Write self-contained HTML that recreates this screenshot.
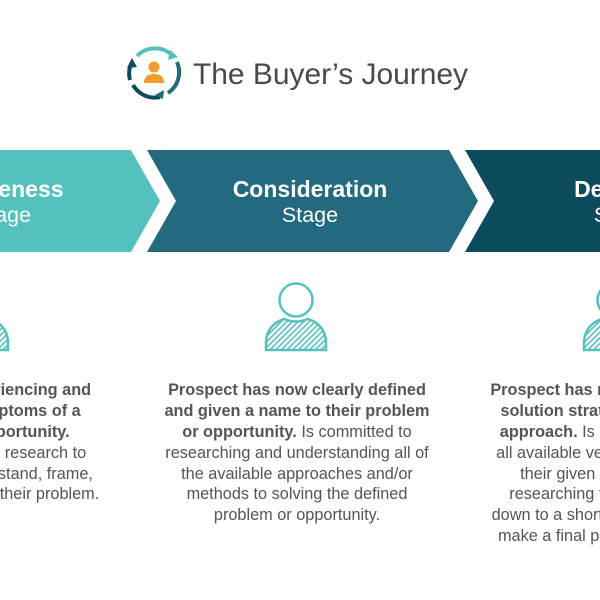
<!DOCTYPE html>
<html><head><meta charset="utf-8"><style>
html,body{margin:0;padding:0;background:#fff;width:600px;height:600px;overflow:hidden}
svg{display:block}
text{font-family:"Liberation Sans",sans-serif}
</style></head><body>
<svg width="600" height="600" viewBox="0 0 600 600" xmlns="http://www.w3.org/2000/svg">
<defs>
<pattern id="h" width="4" height="4" patternUnits="userSpaceOnUse" patternTransform="rotate(45)">
<rect width="4" height="4" fill="#fff"/><rect width="1.6" height="4" fill="#55c1bf"/>
</pattern>
<g id="person">
<circle cx="0" cy="0" r="16.5" fill="none" stroke="#55c1bf" stroke-width="2.5"/>
<path d="M-30 50 L-30 43 C-30 30 -22 22 -12 19 Q0 24 12 19 C22 22 30 30 30 43 L30 50 Z" fill="url(#h)" stroke="#55c1bf" stroke-width="2.5"/>
</g>
</defs>
<g fill="none" stroke-width="4">
<path d="M137 56 A25 25 0 0 1 173 56" stroke="#55c1bf"/>
<path d="M177 62 A25 25 0 0 1 168 93" stroke="#236a80"/>
<path d="M160 97 A25 25 0 0 1 133 85" stroke="#0b4b5c"/>
<path d="M130 80 A25 25 0 0 1 132 62" stroke="#0b4b5c"/>
</g>
<polygon points="170,50 178,57 168,60" fill="#55c1bf"/>
<polygon points="164,90 163,99 155,95" fill="#236a80"/>
<polygon points="127,68 132,58 137,67" fill="#0b4b5c"/>
<circle cx="154" cy="67" r="5.5" fill="#f39c2d"/>
<path d="M144 83 Q144 74 154 74 Q164 74 164 83 Z" fill="#f39c2d"/>
<text x="193" y="84" font-size="30" fill="#4a4a4a" textLength="275">The Buyer’s Journey</text>
<polygon points="0,150 131,150 160,201 131,252 0,252" fill="#55c1bf"/>
<polygon points="147,150 449,150 478,201 449,252 147,252 176,201" fill="#236a80"/>
<polygon points="465,150 600,150 600,252 465,252 494,201" fill="#0b4b5c"/>
<g fill="#fff" text-anchor="middle">
<text x="3" y="197" font-size="23" font-weight="bold">Awareness</text>
<text x="3" y="222" font-size="21.5">Stage</text>
<text x="310" y="197" font-size="23" font-weight="bold">Consideration</text>
<text x="310" y="222" font-size="21.5">Stage</text>
<text x="622" y="197" font-size="23" font-weight="bold">Decision</text>
<text x="622" y="222" font-size="21.5">Stage</text>
</g>
<use href="#person" x="-22" y="300"/>
<use href="#person" x="296" y="300"/>
<use href="#person" x="614" y="300"/>
<g font-size="16.3" fill="#555" text-anchor="middle">
<text x="-22" y="395" font-weight="bold">Prospect is experiencing and</text>
<text x="-22" y="416" font-weight="bold">expressing symptoms of a</text>
<text x="-22" y="437" font-weight="bold">problem or opportunity.</text>
<text x="-22" y="458">Doing educational research to</text>
<text x="-22" y="479">more clearly understand, frame,</text>
<text x="-22" y="499">and give a name to their problem.</text>

<text x="297" y="395" font-weight="bold">Prospect has now clearly defined</text>
<text x="297" y="416" font-weight="bold">and given a name to their problem</text>
<text x="297" y="437"><tspan font-weight="bold">or opportunity.</tspan> Is committed to</text>
<text x="297" y="458">researching and understanding all of</text>
<text x="297" y="479">the available approaches and/or</text>
<text x="297" y="499">methods to solving the defined</text>
<text x="297" y="520">problem or opportunity.</text>

<text x="612" y="395" font-weight="bold">Prospect has now decided on a</text>
<text x="612" y="416" font-weight="bold">solution strategy, method, or</text>
<text x="612" y="437"><tspan font-weight="bold">approach.</tspan> Is compiling a list of</text>
<text x="612" y="458">all available vendors that deliver</text>
<text x="612" y="479">their given solution and is</text>
<text x="612" y="499">researching to whittle the list</text>
<text x="612" y="520">down to a short list and ultimately</text>
<text x="612" y="541">make a final purchase decision.</text>
</g>
</svg>
</body></html>
